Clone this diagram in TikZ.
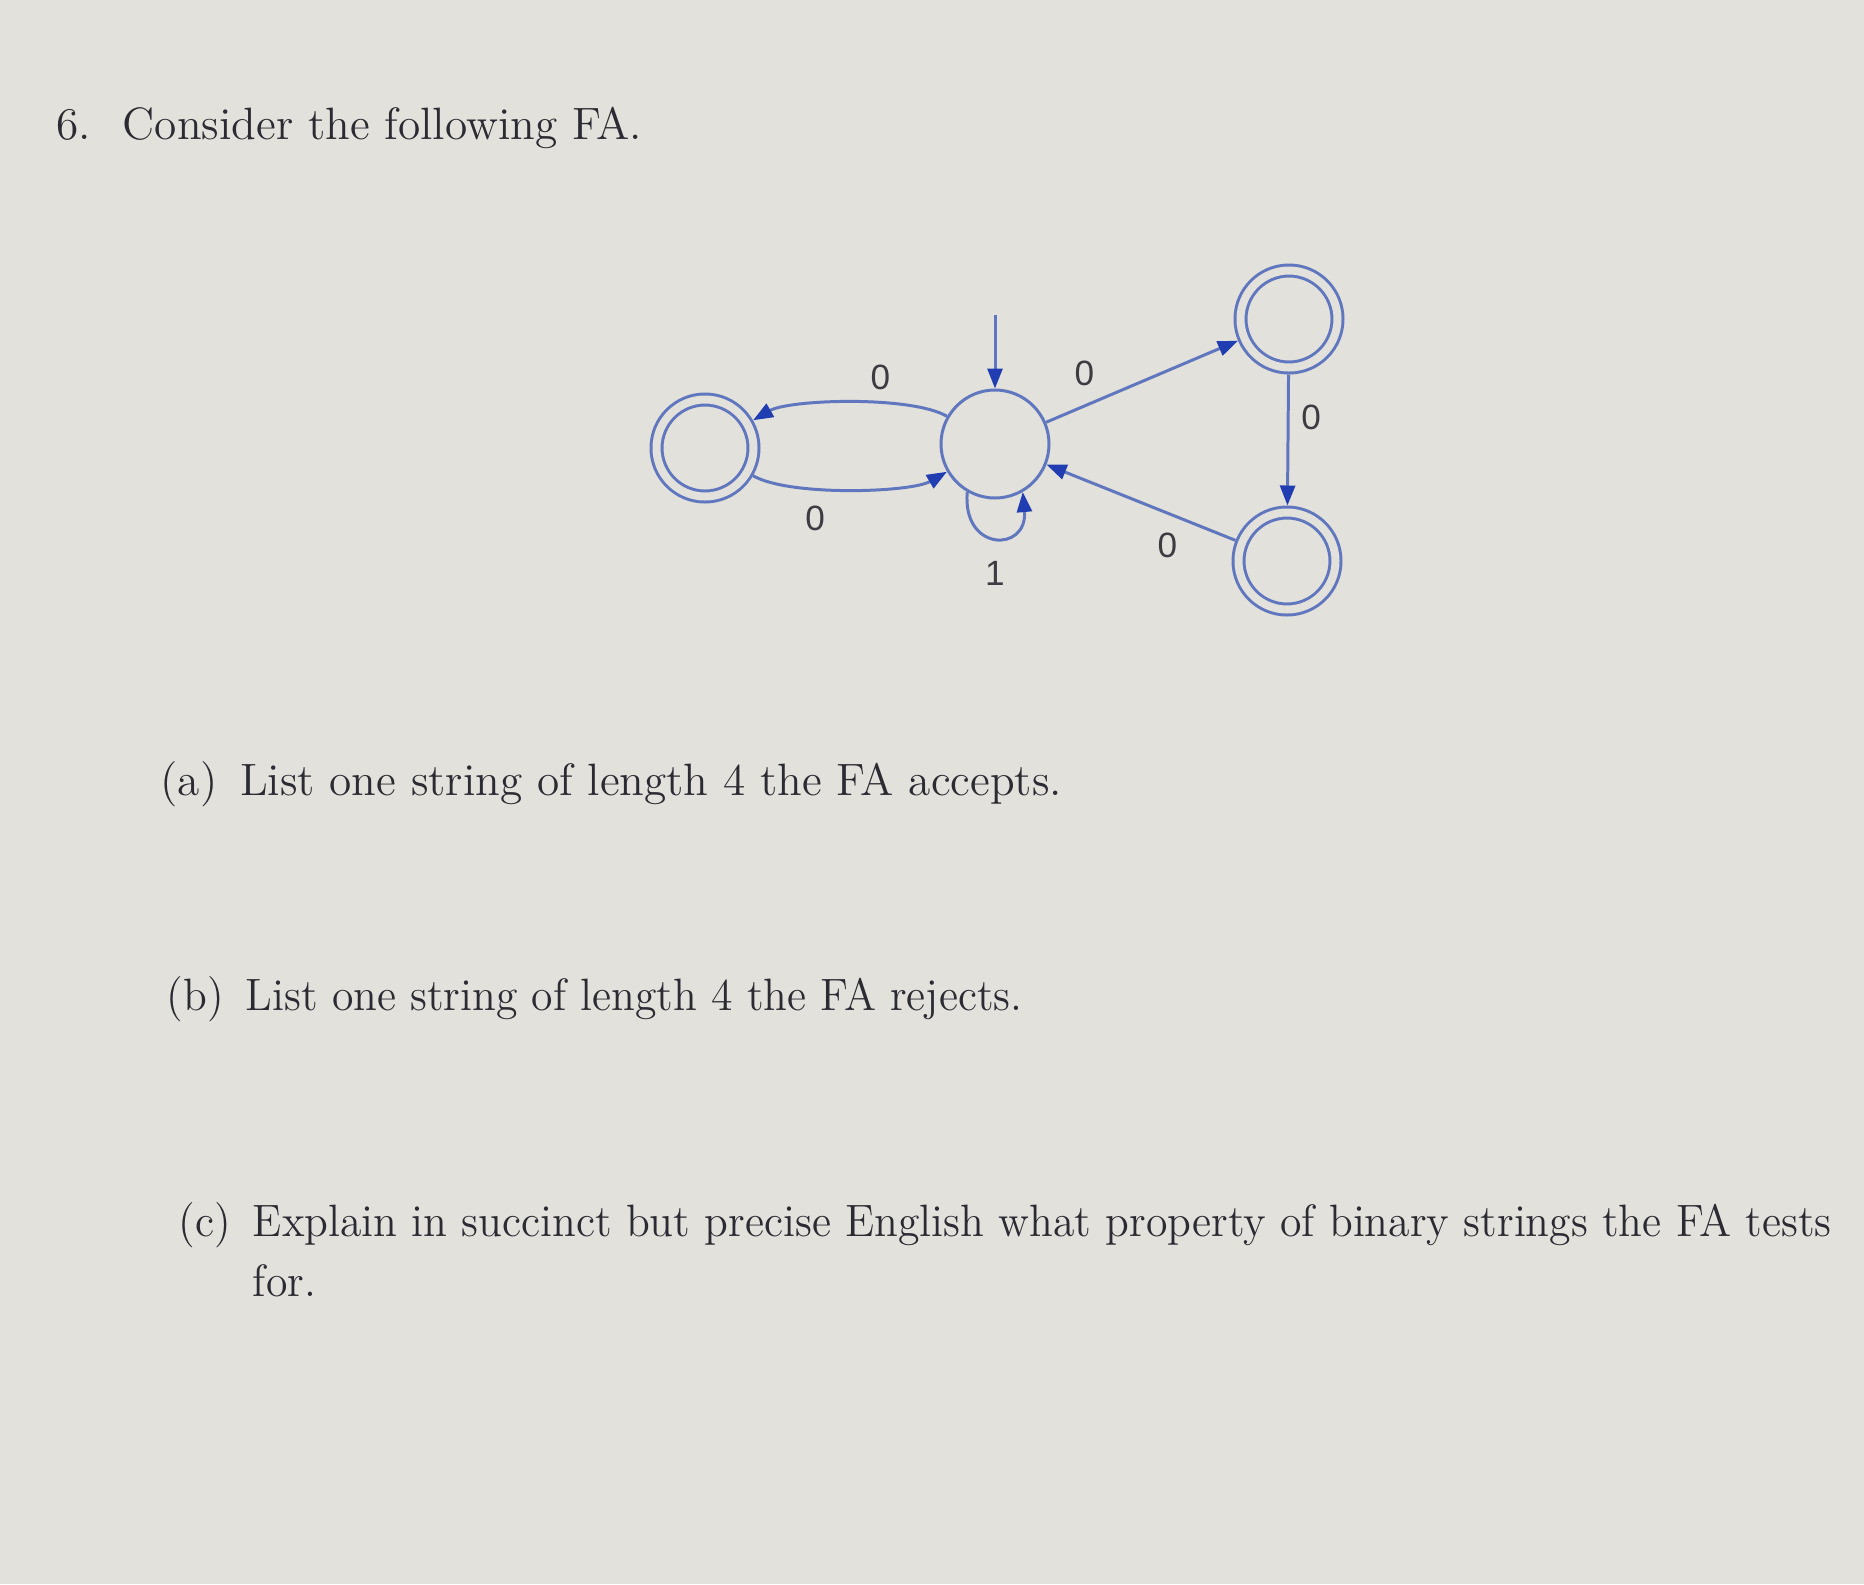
\documentclass[tikz,border=0pt]{standalone}
\usepackage{fontspec}
\newfontfamily\labelfont{Liberation Sans}
\usepackage{tikz}
\usetikzlibrary{arrows.meta}
\definecolor{paper}{RGB}{226,225,219}
\definecolor{faline}{RGB}{96,118,190}
\definecolor{tipblue}{RGB}{32,62,178}
\definecolor{lblgray}{RGB}{62,60,66}
\definecolor{ink}{RGB}{44,42,50}

\begin{document}
\begin{tikzpicture}[
		state/.style={circle, draw=faline, line width=0.85pt, minimum size=1.08cm, inner sep=0pt},
		accept/.style={state, double=paper, double distance=0.08cm, minimum size=0.97cm, outer sep=0.07cm},
		lbl/.style={font=\labelfont\fontsize{10}{12}\selectfont, text=lblgray},
		question/.style={font=\fontsize{12.9}{17}\selectfont, text=ink, inner sep=0pt, anchor=mid west},
		trans/.style={faline, line width=0.85pt},
		>={Triangle[length=0.2cm, width=0.15cm, color=tipblue]}
	]
		\fill[paper] (0,0) rectangle (18.64,-15.84);
		\useasboundingbox (0,0) rectangle (18.64,-15.84);
		
		\node[question] (title) at (0.56,-1.32) {6.\hspace{0.7em}Consider the following FA.};
		
		\node[state] (q0) at (9.95,-4.44) {};
		\node[accept] (qL) at (7.05,-4.48) {};
		\node[accept] (qT) at (12.89,-3.19) {};
		\node[accept] (qB) at (12.87,-5.61) {};
		\coordinate (start) at (9.95,-3.15);
		
		\path[->, trans]
		(start) edge (q0)
		(q0) edge [out=150, in=30, looseness=0.55] node [lbl, above, pos=0.37] {0} (qL)
		(qL) edge [out=-30, in=210, looseness=0.55] node [lbl, below=1pt, pos=0.35] {0} (q0)
		(q0.240) edge [out=265, in=275, looseness=2.8] node [lbl, below=3pt] {1} (q0.300)
		(q0) edge node [lbl, above=2pt, pos=0.2] {0} (qT)
		(qT) edge node [lbl, right, pos=0.33] {0} (qB)
		(qB) edge node [lbl, below=2pt, pos=0.36] {0} (q0)
		;
		
		\node[question] (parta) at (1.60,-7.88) {(a)\hspace{0.5em}List one string of length 4 the FA accepts.};
		\node[question, transform shape, xscale=0.964] (partb) at (1.66,-10.03) {(b)\hspace{0.5em}List one string of length 4 the FA rejects.};
		\node[question, anchor=north west, transform shape, xscale=0.965] (partc) at (1.78,-11.94) {\begin{tabular}{@{}l@{\hspace{0.5em}}l@{}}
				(c) & Explain in succinct but precise English what property of binary strings the FA tests\\
				& for.
		\end{tabular}};
	\end{tikzpicture}
\end{document}
